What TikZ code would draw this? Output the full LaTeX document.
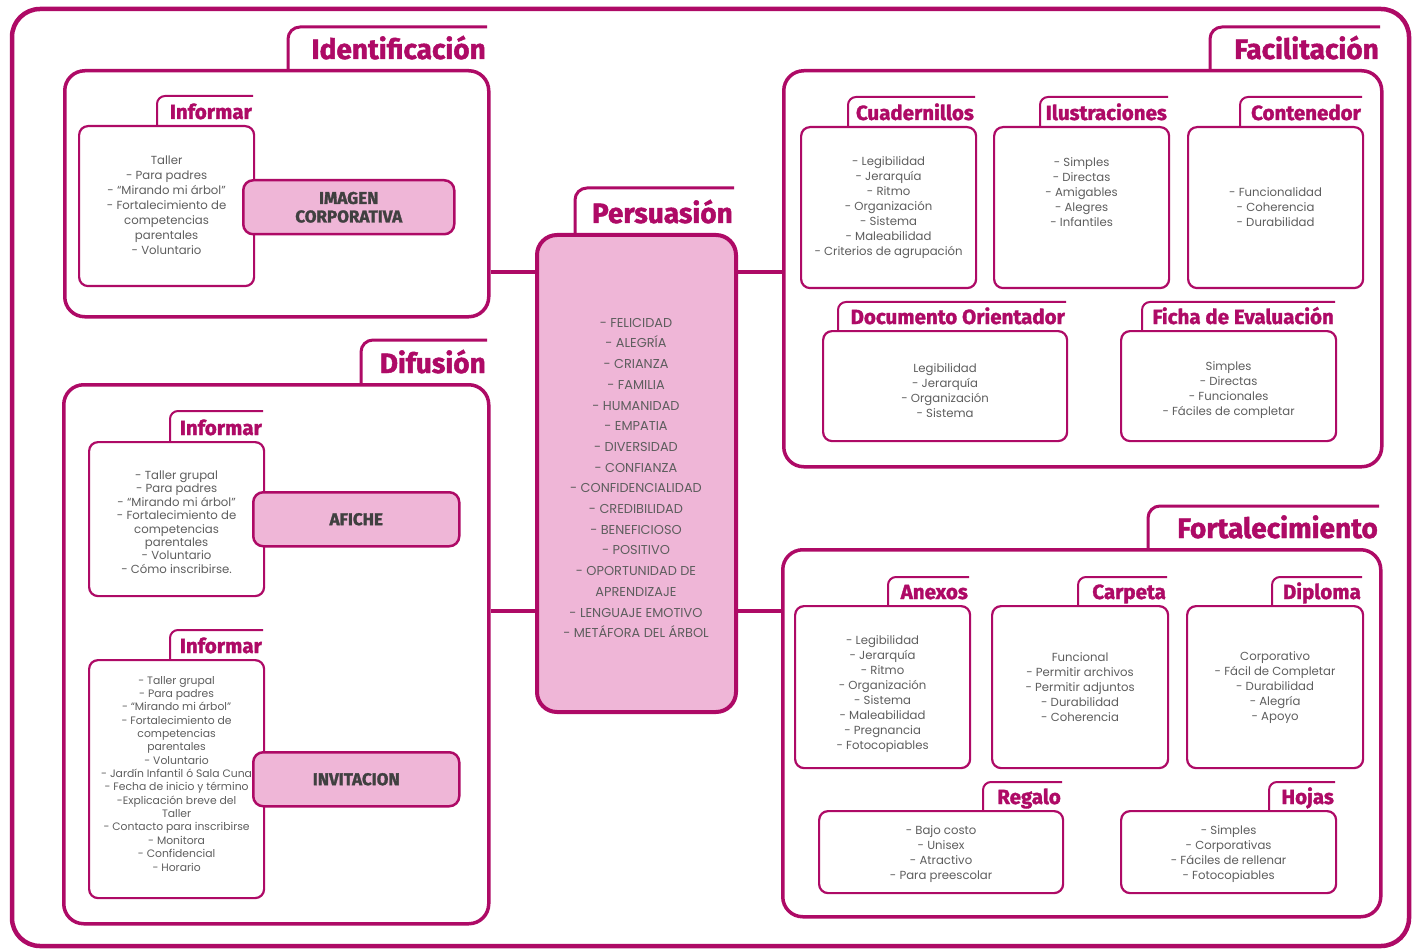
\documentclass[tikz,border=0pt]{standalone}
\usepackage{fontspec}
\setmainfont{Poppins}
\newfontfamily\titlef{Fira Sans}[BoldFeatures={FakeBold=1.6}]
\definecolor{mag}{HTML}{AE0A66}
\definecolor{pinkf}{HTML}{EFB6D7}
\definecolor{txt}{HTML}{5E5E5E}
\definecolor{lbl}{HTML}{404040}
\tikzset{
 outerframe/.style={draw=mag, line width=4.5pt, rounded corners=28pt},
 secbox/.style={draw=mag, line width=3.5pt, rounded corners=20pt, rectangle, inner sep=0pt, anchor=north west},
 subbox/.style={draw=mag, line width=2.2pt, rounded corners=9pt, rectangle, inner sep=0pt, anchor=north west},
 sectab/.style={draw=mag, line width=3pt, rounded corners=12pt},
 subtab/.style={draw=mag, line width=2pt, rounded corners=8pt},
 sectitle/.style={text=mag, font=\titlef\bfseries\fontsize{28}{28}\selectfont, anchor=base east, inner sep=0pt},
 subtitle/.style={text=mag, font=\titlef\bfseries\fontsize{20.5}{20.5}\selectfont, anchor=base east, inner sep=0pt},
 bodytext/.style={text=txt, font=\fontsize{11.7}{15}\selectfont, align=center, inner sep=0pt},
 pinkbox/.style={draw=mag, fill=pinkf, line width=2.5pt, rounded corners=10pt, rectangle, anchor=north west, text=lbl, font=\titlef\bfseries\fontsize{17}{18.5}\selectfont, align=center, inner sep=0pt},
 conn/.style={draw=mag, line width=3.5pt},
 ilusopt/.style={yshift=15pt},
 docuopt/.style={yshift=-4pt},
 fichaopt/.style={yshift=-4pt},
 anexopt/.style={yshift=-7pt},
 regaopt/.style={yshift=-2pt},
 hojaopt/.style={yshift=-2pt},
 inf1opt/.style={yshift=1pt},
 inf2opt/.style={yshift=-3pt, font=\fontsize{11.7}{13.4}\selectfont},
 inf3opt/.style={yshift=5.5pt, font=\fontsize{10.8}{13.36}\selectfont},
}
\newcommand{\subpanel}[9]{%
 \node[subbox, minimum width={#4-#2}, minimum height={#5-#3}] (#1) at (#2,#3) {};
 \draw[subtab] (#6,#3) |- (#4,#7);
 \node[subtitle] (#1h) at (#4-1,#3-6) {#8};
 \node[bodytext, #1opt/.try] (#1t) at (#1.center) {#9};
}
\newcommand{\secpanel}[9]{%
 \node[secbox, minimum width={#4-#2}, minimum height={#5-#3}, #9] (#1) at (#2,#3) {};
 \draw[sectab] (#6,#3) |- (#4,#7);
 \node[sectitle] (#1h) at (#4-1,#3-10) {#8};
}
\begin{document}
\begin{tikzpicture}[x=1pt,y=-1pt]
\useasboundingbox (0,0) rectangle (1412,949);
\fill[white] (0,0) rectangle (1412,949);
\draw[outerframe] (12,9) rectangle (1409,946);

% sections
\secpanel{ident}{63}{69}{487}{315}{288}{27}{Identificación}{}
\secpanel{difu}{62}{383}{487}{922}{361}{340}{Difusión}{}
\secpanel{pers}{535}{233}{734}{710}{575}{188}{Persuasión}{fill=pinkf, line width=4pt}
\secpanel{faci}{782}{69}{1380}{465}{1210}{27}{Facilitación}{}
\secpanel{fort}{781}{548}{1379}{915}{1148}{506}{Fortalecimiento}{}

% connectors
\draw[conn] (ident.east |- 0,272) -- (pers.west |- 0,272);
\draw[conn] (difu.east |- 0,611) -- (pers.west |- 0,611);
\draw[conn] (pers.east |- 0,272) -- (faci.west |- 0,272);
\draw[conn] (pers.east |- 0,611) -- (fort.west |- 0,611);

% persuasion text
\node[bodytext, font=\fontsize{12.9}{20.7}\selectfont] (perst) at (636,478) {- FELICIDAD\\- ALEGRÍA\\- CRIANZA\\- FAMILIA\\- HUMANIDAD\\- EMPATIA\\- DIVERSIDAD\\- CONFIANZA\\- CONFIDENCIALIDAD\\- CREDIBILIDAD\\- BENEFICIOSO\\- POSITIVO\\- OPORTUNIDAD DE\\APRENDIZAJE\\- LENGUAJE EMOTIVO\\- METÁFORA DEL ÁRBOL};

% identificacion
\subpanel{inf1}{78}{125}{253}{285}{157}{96}{Informar}{Taller\\- Para padres\\- ``Mirando mi árbol''\\- Fortalecimiento de\\competencias\\parentales\\- Voluntario}
\node[pinkbox, minimum width=211, minimum height=54] (imagen) at (242,179) {IMAGEN\\CORPORATIVA};

% difusion
\subpanel{inf2}{88}{441}{263}{595}{170}{411}{Informar}{- Taller grupal\\- Para padres\\- ``Mirando mi árbol''\\- Fortalecimiento de\\competencias\\parentales\\- Voluntario\\- Cómo inscribirse.}
\node[pinkbox, minimum width=206, minimum height=54] (afiche) at (252,491) {AFICHE};
\subpanel{inf3}{88}{659}{263}{897}{170}{630}{Informar}{- Taller grupal\\- Para padres\\- ``Mirando mi árbol''\\- Fortalecimiento de\\competencias\\parentales\\- Voluntario\\- Jardín Infantil ó Sala Cuna\\- Fecha de inicio y término\\-Explicación breve del\\Taller\\- Contacto para inscribirse\\- Monitora\\- Confidencial\\- Horario}
\node[pinkbox, minimum width=206, minimum height=54] (invit) at (252,751) {INVITACION};

% facilitacion
\subpanel{cuad}{800}{126}{975}{287}{848}{97}{Cuadernillos}{- Legibilidad\\- Jerarquía\\- Ritmo\\- Organización\\- Sistema\\- Maleabilidad\\- Criterios de agrupación}
\subpanel{ilus}{993}{126}{1168}{287}{1040}{97}{Ilustraciones}{- Simples\\- Directas\\- Amigables\\- Alegres\\- Infantiles}
\subpanel{cont}{1187}{126}{1362}{287}{1240}{97}{Contenedor}{- Funcionalidad\\- Coherencia\\- Durabilidad}
\subpanel{docu}{822}{330}{1066}{440}{838}{302}{Documento Orientador}{Legibilidad\\- Jerarquía\\- Organización\\- Sistema}
\subpanel{ficha}{1120}{330}{1335}{440}{1142}{302}{Ficha de Evaluación}{Simples\\- Directas\\- Funcionales\\- Fáciles de completar}

% fortalecimiento
\subpanel{anex}{794}{605}{969}{767}{888}{577}{Anexos}{- Legibilidad\\- Jerarquía\\- Ritmo\\- Organización\\- Sistema\\- Maleabilidad\\- Pregnancia\\- Fotocopiables}
\subpanel{carp}{991}{605}{1167}{767}{1078}{577}{Carpeta}{Funcional\\- Permitir archivos\\- Permitir adjuntos\\- Durabilidad\\- Coherencia}
\subpanel{dipl}{1186}{605}{1362}{767}{1272}{577}{Diploma}{Corporativo\\- Fácil de Completar\\- Durabilidad\\- Alegría\\- Apoyo}
\subpanel{rega}{818}{810}{1062}{892}{983}{782}{Regalo}{- Bajo costo\\- Unisex\\- Atractivo\\- Para preescolar}
\subpanel{hoja}{1120}{810}{1335}{892}{1269}{782}{Hojas}{- Simples\\- Corporativas\\- Fáciles de rellenar\\- Fotocopiables}
\end{tikzpicture}
\end{document}
